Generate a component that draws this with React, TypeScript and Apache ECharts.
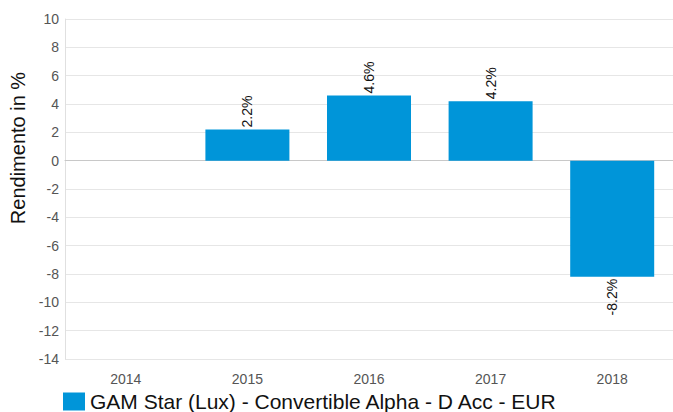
import React, { useEffect, useRef } from "react";
import * as echarts from "echarts";

const categories = ["2014", "2015", "2016", "2017", "2018"];
const values: (number | null)[] = [null, 2.2, 4.6, 4.2, -8.2];
const seriesName = "GAM Star (Lux) - Convertible Alpha - D Acc - EUR";
const yTitle = "Rendimento in %";

export default function App() {
  const ref = useRef<HTMLDivElement>(null);
  useEffect(() => {
    const chart = echarts.init(ref.current!, null, { renderer: "svg" });
    chart.setOption({
      animation: false,
      textStyle: { fontFamily: "Liberation Sans, Arial, sans-serif" },
      grid: { left: 65, top: 19, width: 610, height: 340 },
      legend: {
        left: 63,
        top: 391,
        padding: 0,
        itemWidth: 22,
        itemHeight: 18,
        itemGap: 5,
        icon: "rect",
        textStyle: { fontSize: 21, color: "#111", fontFamily: "Liberation Sans, Arial, sans-serif" },
        data: [seriesName],
      },
      graphic: [
        {
          type: "text",
          x: 18,
          y: 148,
          rotation: Math.PI / 2,
          style: {
            text: yTitle,
            fontSize: 20,
            fill: "#111",
            fontFamily: "Liberation Sans, Arial, sans-serif",
            align: "center",
            verticalAlign: "middle",
          },
        },
      ],
      xAxis: {
        type: "category",
        data: categories,
        axisLine: { lineStyle: { color: "#c8c8c8", width: 1 } },
        axisTick: { show: false },
        axisLabel: { color: "#555", fontSize: 14, margin: 13 },
      },
      yAxis: {
        type: "value",
        min: -14,
        max: 10,
        interval: 2,
        axisLine: { show: true, lineStyle: { color: "#e0e0e0" } },
        axisTick: { show: false },
        axisLabel: { color: "#555", fontSize: 14, margin: 6 },
        splitLine: { lineStyle: { color: "#e6e6e6" } },
      },
      series: [
        {
          name: seriesName,
          type: "bar",
          data: values.map((v) =>
            v === null
              ? null
              : {
                  value: v,
                  label: {
                    show: true,
                    position: v >= 0 ? "top" : "bottom",
                    rotate: 90,
                    align: v >= 0 ? "left" : "right",
                    verticalAlign: "middle",
                    distance: 2,
                    fontSize: 14,
                    color: "#111",
                    formatter: (p: any) => p.value.toFixed(1) + "%",
                  },
                }
          ),
          barWidth: 84,
          itemStyle: { color: "#0095d9" },
        },
      ],
    });
    return () => chart.dispose();
  }, []);
  return (
    <div
      ref={ref}
      style={{ position: "absolute", left: 0, top: 0, width: 673, height: 412 }}
    />
  );
}
